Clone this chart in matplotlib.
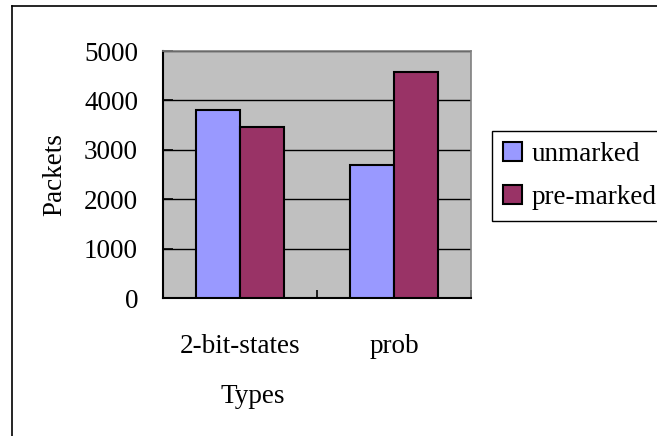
import matplotlib.pyplot as plt
from matplotlib.lines import Line2D
import numpy as np

types = ['2-bit-states', 'prob']
unmarked = [3800, 2690]
pre_marked = [3470, 4580]
yticks = [0, 1000, 2000, 3000, 4000, 5000]

plt.rcParams['font.family'] = ['Liberation Serif', 'DejaVu Serif']
plt.rcParams['font.size'] = 19.5

fig = plt.figure(figsize=(6.57, 4.36), dpi=100)
ax = fig.add_axes([0.2481, 0.3165, 0.4688, 0.5665])
ax.set_facecolor('#C0C0C0')

x = np.arange(len(types))
w = 1 / 3.5  # gap width 150%
ax.bar(x - w / 2, unmarked, w, color='#9999FF', edgecolor='black', linewidth=1.5,
       label='unmarked', zorder=3)
ax.bar(x + w / 2, pre_marked, w, color='#993366', edgecolor='black', linewidth=1.5,
       label='pre-marked', zorder=3)

ax.set_xlim(-0.5, len(types) - 0.5)
ax.set_ylim(0, 5000)
ax.set_yticks(yticks)
ax.yaxis.grid(True, color='black', linewidth=1.0, zorder=1)
ax.set_axisbelow(True)

ax.set_xticks(x)
ax.set_xticklabels(types)
ax.set_xticks(np.arange(len(types) + 1) - 0.5, minor=True)
ax.tick_params(axis='x', which='major', length=0, pad=26)
ax.tick_params(axis='x', which='minor', direction='in', length=6, width=1.2)
ax.tick_params(axis='y', direction='in', length=7, width=1.2, pad=18)

for side in ['top', 'right']:
    ax.spines[side].set_color('#808080')
    ax.spines[side].set_linewidth(1.2)
for side in ['left', 'bottom']:
    ax.spines[side].set_color('black')
    ax.spines[side].set_linewidth(1.5)

ax.set_ylabel('Packets', labelpad=12)
fig.text(253 / 657, 1 - 396 / 436, 'Types', ha='center', va='center')

ax.legend(loc='upper left', bbox_to_anchor=(492 / 657, 1 - 131 / 436),
          bbox_transform=fig.transFigure, frameon=True, fancybox=False,
          edgecolor='black', framealpha=1, handlelength=0.72, handleheight=0.72,
          handletextpad=0.35, labelspacing=0.65, borderpad=0.4, borderaxespad=0)
leg = ax.get_legend()
leg.get_frame().set_linewidth(1.0)

# outer chart border (left and top edges)
fig.add_artist(Line2D([12 / 657, 12 / 657], [0, 1 - 6 / 436], color='black',
                      linewidth=1.2, transform=fig.transFigure))
fig.add_artist(Line2D([12 / 657, 1], [1 - 6 / 436, 1 - 6 / 436], color='black',
                      linewidth=1.2, transform=fig.transFigure))

fig.savefig('out.png', dpi=100)
